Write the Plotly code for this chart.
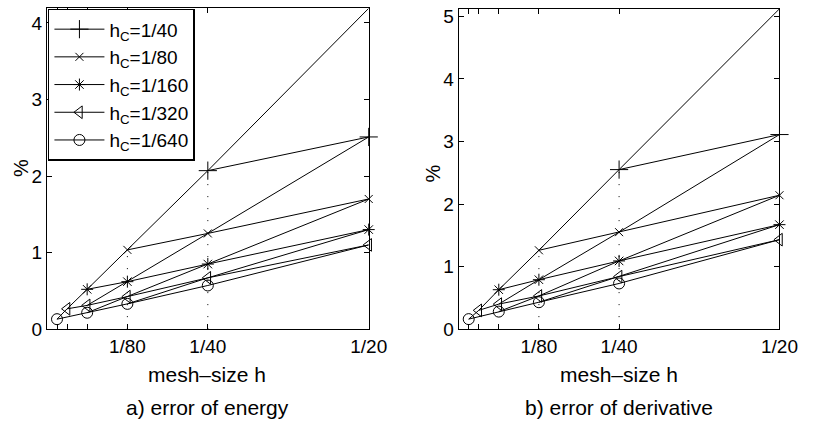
import plotly.graph_objects as go

# Mesh sizes on the x axis and their tick labels
H = [1/640, 1/320, 1/160, 1/80, 1/40, 1/20]
H_TEXT = ["", "", "", "1/80", "1/40", "1/20"]

# Coarse sizes h_C, one curve each
HC = [1/40, 1/80, 1/160, 1/320, 1/640]
HC_NAMES = ["1/40", "1/80", "1/160", "1/320", "1/640"]
SYMBOLS = ["cross-thin-open", "x-thin-open", "asterisk-open",
           "triangle-left-open", "circle-open"]
SIZES = [13, 8, 10, 11, 11]

# mesh sizes h computed for each h_C
h_40 = [1/40, 1/20]
h_80 = [1/80, 1/40, 1/20]
h_160 = [1/160, 1/80, 1/40, 1/20]
h_320 = [1/320, 1/160, 1/80, 1/40, 1/20]
h_640 = [1/640, 1/160, 1/80, 1/40]

# a) error of energy, in %
energy_40 = [2.07, 2.51]
energy_80 = [1.035, 1.25, 1.70]
energy_160 = [0.52, 0.62, 0.85, 1.30]
energy_320 = [0.265, 0.31, 0.425, 0.67, 1.10]
energy_640 = [0.13, 0.214, 0.33, 0.57]
energy_20 = [4.19]          # h_C = h = 1/20

# b) error of derivative, in %
deriv_40 = [2.55, 3.11]
deriv_80 = [1.26, 1.55, 2.14]
deriv_160 = [0.63, 0.79, 1.09, 1.67]
deriv_320 = [0.30, 0.40, 0.53, 0.84, 1.43]
deriv_640 = [0.16, 0.28, 0.43, 0.73]
deriv_20 = [5.12]           # h_C = h = 1/20

H_SETS = [h_40, h_80, h_160, h_320, h_640]
PANELS = [
    dict(vals=[energy_40, energy_80, energy_160, energy_320, energy_640],
         top=energy_20, ymax=4.19, yticks=[0, 1, 2, 3, 4],
         xa="x", ya="y", legend=True),
    dict(vals=[deriv_40, deriv_80, deriv_160, deriv_320, deriv_640],
         top=deriv_20, ymax=5.12, yticks=[0, 1, 2, 3, 4, 5],
         xa="x2", ya="y2", legend=False),
]

fig = go.Figure()
BLACK = "#000000"

for p in PANELS:
    # lines joining runs with the same ratio h / h_C
    pts = [(1/20, 1/20, p["top"][0])]
    for hc, hs, vs in zip(HC, H_SETS, p["vals"]):
        for h, v in zip(hs, vs):
            pts.append((hc, h, v))
    ratios = sorted({round(h / hc) for hc, h, _ in pts})
    for r in ratios:
        grp = sorted([(h, v) for hc, h, v in pts if round(h / hc) == r])
        fig.add_trace(go.Scatter(
            x=[g[0] for g in grp], y=[g[1] for g in grp], mode="lines",
            line=dict(color=BLACK, width=1), showlegend=False,
            hoverinfo="skip", xaxis=p["xa"], yaxis=p["ya"]))

    # dotted markers of the labelled mesh sizes, up to h = h_C
    diag = {h: v for hc, h, v in pts if round(h / hc) == 1}
    for h in (1/80, 1/40):
        fig.add_trace(go.Scatter(
            x=[h, h], y=[0, diag[h]], mode="lines",
            line=dict(color=BLACK, width=1, dash="1px,11px"),
            showlegend=False, hoverinfo="skip",
            xaxis=p["xa"], yaxis=p["ya"]))

    # one curve per h_C
    for name, hs, vs, sym, sz in zip(HC_NAMES, H_SETS, p["vals"],
                                      SYMBOLS, SIZES):
        fig.add_trace(go.Scatter(
            x=hs, y=vs, mode="lines+markers",
            name="h<sub>C</sub>=" + name,
            line=dict(color=BLACK, width=1),
            marker=dict(symbol=sym, size=sz, color=BLACK,
                        line=dict(color=BLACK, width=1)),
            cliponaxis=False, showlegend=p["legend"],
            xaxis=p["xa"], yaxis=p["ya"]))

W, HGT = 819, 434
FONT = "Liberation Sans, Arial, sans-serif"


def px_x(v):
    return v / W


def px_y(v):
    return 1 - v / HGT


axis_common = dict(
    showline=True, linecolor=BLACK, linewidth=1, mirror="ticks",
    ticks="inside", ticklen=5, tickwidth=1, tickcolor=BLACK,
    showgrid=False, zeroline=False,
    tickfont=dict(family=FONT, size=19, color=BLACK),
)

fig.update_layout(
    width=W, height=HGT, margin=dict(l=0, r=0, t=0, b=0),
    paper_bgcolor="white", plot_bgcolor="white",
    font=dict(family=FONT, color=BLACK),
    xaxis=dict(domain=[px_x(48), px_x(377)], range=[0, 1/20],
               tickvals=H, ticktext=H_TEXT, anchor="y", **axis_common),
    yaxis=dict(domain=[px_y(337), px_y(5.5)], range=[0, 4.19],
               tickvals=PANELS[0]["yticks"], anchor="x", **axis_common),
    xaxis2=dict(domain=[px_x(469), px_x(797)], range=[0, 1/20],
                tickvals=H, ticktext=H_TEXT, anchor="y2", **axis_common),
    yaxis2=dict(domain=[px_y(337), px_y(6)], range=[0, 5.12],
                tickvals=PANELS[1]["yticks"], anchor="x2", **axis_common),
    legend=dict(x=px_x(49), y=px_y(6), xanchor="left", yanchor="top",
                bgcolor="white", bordercolor=BLACK, borderwidth=1.5,
                font=dict(family=FONT, size=19, color=BLACK),
                itemwidth=50, entrywidth=150, entrywidthmode="pixels",
                tracegroupgap=0),
    showlegend=True,
)

labels = [
    ("%", 22, 171, -90, 20), ("%", 443, 176, -90, 20),
    ("mesh\u2013size h", 212, 384, 0, 21), ("mesh\u2013size h", 633, 384, 0, 21),
    ("a) error of energy", 212, 418, 0, 21),
    ("b) error of derivative", 633, 418, 0, 21),
]
for text, x, y, ang, fs in labels:
    fig.add_annotation(text=text, x=px_x(x), y=px_y(y), xref="paper",
                       yref="paper", showarrow=False, textangle=ang,
                       xanchor="center", yanchor="middle",
                       font=dict(family=FONT, size=fs, color=BLACK))

fig.write_html("out.html")
